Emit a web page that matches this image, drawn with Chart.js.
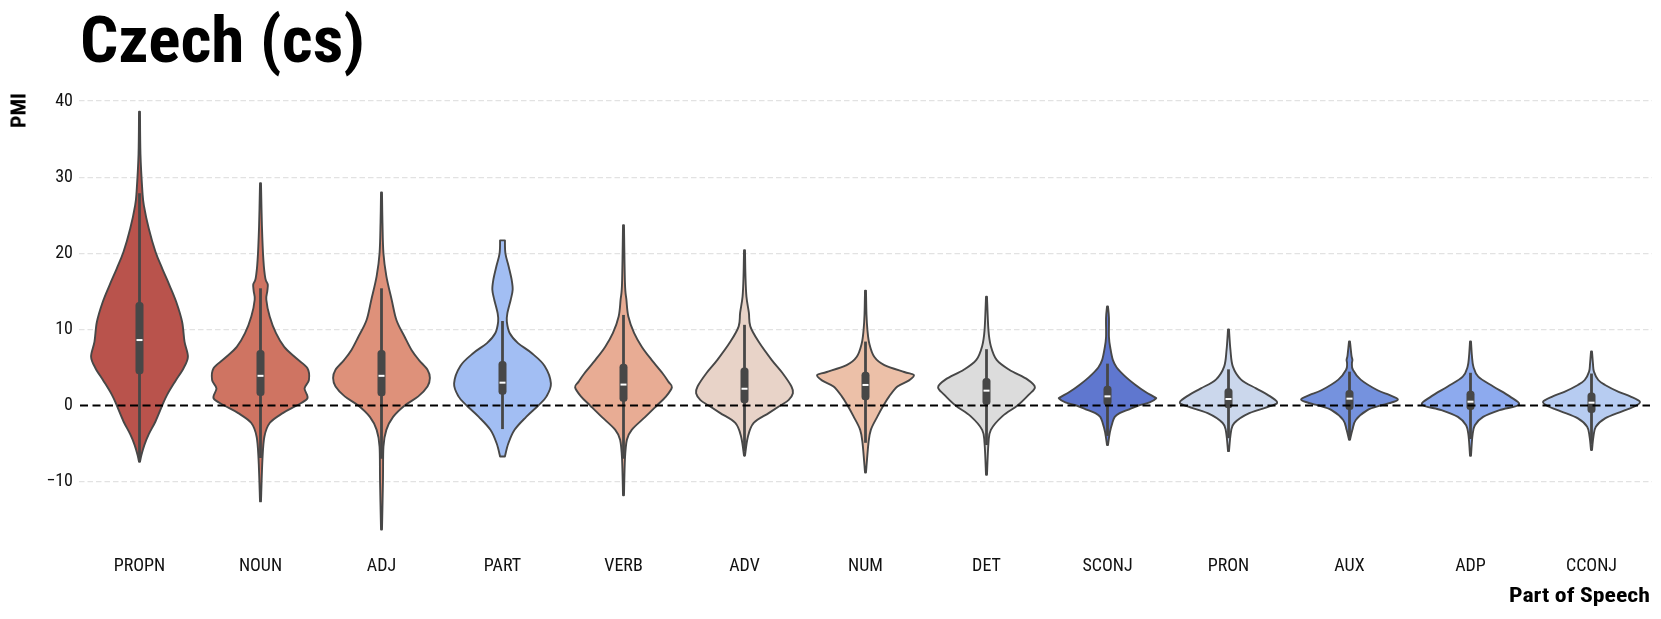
<!DOCTYPE html>
<html><head><meta charset="utf-8">
<script src="https://cdn.jsdelivr.net/npm/chart.js@4.4.1/dist/chart.umd.min.js"></script>
<style>
html,body{margin:0;padding:0;background:#fff;}
#wrap{position:relative;width:1661px;height:619px;overflow:hidden;background:#fff;}
#c{position:absolute;left:0;top:0;}
.lbl{position:absolute;left:0;top:0;white-space:nowrap;color:#000;font-family:'Roboto Condensed',Roboto,sans-serif;font-weight:700;transform-origin:0 0;}
#title{font-size:64px;line-height:64px;}
#ylab{font-size:21px;line-height:21px;}
#xlab{font-size:20px;line-height:20px;}
</style></head>
<body><div id="wrap"><canvas id="c" width="1661" height="619"></canvas>
<div id="title" class="lbl">Czech (cs)</div>
<div id="ylab" class="lbl">PMI</div>
<div id="xlab" class="lbl">Part of Speech</div>
</div>
<script>
// ---- data ----
const categories = ['PROPN','NOUN','ADJ','PART','VERB','ADV','NUM','DET','SCONJ','PRON','AUX','ADP','CCONJ'];
const yTicks = [-10, 0, 10, 20, 30, 40];

// density profiles: [PMI value, relative density (1 = widest)]
const profPROPN = [[-7.4,0.01],[-6.5,0.04],[-5.2,0.1],[-3.8,0.19],[-2.1,0.33],[0,0.47],[1.4,0.57],[3.2,0.74],[4.9,0.91],[6.4,1.0],[8.4,0.93],[11,0.88],[13.6,0.76],[15.8,0.62],[18,0.47],[20.2,0.33],[23.3,0.19],[26.3,0.09],[28.1,0.06],[33,0.02],[38.6,0.01]];
const profNOUN = [[-12.6,0.01],[-7.1,0.04],[-4.1,0.08],[-2.3,0.19],[-1.0,0.46],[0,0.75],[0.95,0.97],[2.25,0.91],[3.35,1.0],[4.9,0.97],[6.2,0.74],[7.7,0.49],[9.5,0.32],[11.7,0.19],[13.9,0.12],[15.0,0.14],[15.9,0.15],[16.7,0.1],[19.1,0.06],[23.5,0.03],[29.2,0.01]];
const profADJ = [[-16.3,0.01],[-10,0.03],[-5.4,0.04],[-3.2,0.1],[-1.5,0.24],[0,0.48],[1.2,0.76],[2.5,0.95],[3.6,1.0],[4.7,0.95],[6.0,0.77],[7.3,0.62],[9.0,0.48],[11.2,0.31],[13.9,0.21],[17.0,0.1],[20.0,0.04],[24,0.02],[28.0,0.01]];
const profPART = [[-6.7,0.05],[-5.0,0.12],[-3.2,0.25],[-1.5,0.49],[0,0.74],[1.2,0.91],[2.9,1.0],[5.2,0.87],[6.9,0.6],[8.2,0.32],[9.5,0.15],[11.0,0.09],[12.1,0.1],[13.9,0.17],[15.2,0.21],[16.5,0.19],[18.2,0.13],[20.0,0.06],[21.7,0.05]];
const profVERB = [[-11.8,0.01],[-7,0.03],[-4.5,0.07],[-3.2,0.17],[-1.5,0.45],[0,0.69],[1.2,0.88],[2.4,1.0],[3.1,0.93],[4.2,0.81],[6.0,0.58],[7.7,0.38],[9.5,0.22],[11.7,0.1],[13.9,0.06],[16.1,0.03],[23.7,0.01]];
const profADV = [[-6.6,0.01],[-4.1,0.07],[-2.3,0.19],[-1.0,0.5],[0,0.74],[0.7,0.91],[1.6,1.0],[2.5,0.97],[4.3,0.78],[6.0,0.56],[8.4,0.29],[10.4,0.12],[12.2,0.09],[14.3,0.04],[17,0.02],[20.4,0.01]];
const profNUM = [[-8.8,0.01],[-5.0,0.06],[-3.2,0.11],[-1.4,0.25],[0,0.37],[1.2,0.49],[2.5,0.66],[3.3,0.9],[4.0,1.0],[4.4,0.8],[5.3,0.39],[6.4,0.18],[8.1,0.08],[9.9,0.04],[12,0.02],[15.1,0.01]];
const profDET = [[-9.1,0.01],[-5,0.04],[-3.2,0.09],[-1.4,0.33],[0,0.64],[1.4,0.87],[2.4,1.0],[3.4,0.85],[4.7,0.47],[6.0,0.21],[7.8,0.09],[9.9,0.04],[14.3,0.01]];
const profSCONJ = [[-5.2,0.01],[-3.5,0.05],[-2.3,0.1],[-1.5,0.15],[-1.0,0.25],[-0.5,0.45],[0,0.64],[0.4,0.87],[0.9,1.0],[1.1,0.97],[1.8,0.78],[2.7,0.58],[3.8,0.37],[5.0,0.19],[6.0,0.11],[7.5,0.06],[9.0,0.03],[11.5,0.03],[13.0,0.01]];
const profPRON = [[-6.0,0.01],[-3.5,0.05],[-2.3,0.12],[-1.0,0.43],[0,0.91],[0.5,1.0],[1.4,0.81],[2.25,0.57],[3.4,0.26],[5.1,0.09],[7.3,0.04],[10.0,0.01]];
const profAUX = [[-4.5,0.01],[-3.2,0.06],[-1.9,0.13],[-0.6,0.37],[0,0.64],[0.3,0.82],[0.8,1.0],[1.4,0.82],[2.0,0.58],[3.4,0.23],[4.7,0.07],[5.5,0.05],[6.0,0.06],[6.6,0.04],[8.4,0.01]];
const profADP = [[-6.6,0.01],[-4,0.04],[-2.6,0.09],[-1.5,0.26],[-0.6,0.6],[0.1,1.0],[1.2,0.81],[2.5,0.47],[3.8,0.16],[5.1,0.06],[6.5,0.03],[8.4,0.01]];
const profCCONJ = [[-5.85,0.01],[-4.1,0.04],[-2.8,0.09],[-1.7,0.28],[-0.8,0.62],[-0.1,0.9],[0.5,1.0],[1.2,0.8],[1.8,0.56],[2.7,0.28],[3.35,0.14],[4.45,0.05],[5.5,0.03],[7.1,0.01]];

// box statistics
const q1          = [4.1, 1.25, 1.2, 1.4, 0.5, 0.3, 0.7, 0.07, 0.0, -0.37, -0.6, -0.6, -1.0];
const medians     = [8.6, 3.9, 3.9, 3.0, 2.75, 2.2, 2.7, 1.95, 1.2, 0.85, 0.9, 0.5, 0.37];
const q3          = [13.6, 7.3, 7.3, 5.85, 5.5, 5.0, 4.45, 3.6, 2.6, 2.26, 2.04, 1.95, 1.7];
const whiskerLow  = [-7.2, -6.9, -7.0, -3.1, -7.0, -6.0, -4.9, -5.2, -4.0, -4.3, -4.5, -4.4, -5.05];
const whiskerHigh = [27.9, 15.4, 15.4, 11.1, 11.9, 10.6, 8.4, 7.4, 5.5, 4.75, 4.45, 4.3, 4.2];

const profiles = [profPROPN, profNOUN, profADJ, profPART, profVERB, profADV, profNUM, profDET, profSCONJ, profPRON, profAUX, profADP, profCCONJ];

// ---- styles ----
const palette = ['#B9534C','#CF7462','#DE917A','#A2BEF3','#E8AC94','#E8D3C8','#ECC0A8','#DCDCDC','#5F77CF','#CBD7EC','#7592DE','#8DAAEE','#B7CCF1'];
const MAX_HALF = 0.4;          // half of violin width, in category units
const EDGE = '#474747';
const TICK_FONT = "'Roboto Condensed','Liberation Sans Narrow','DejaVu Sans Condensed',Roboto,sans-serif";

function smoothPath(ctx, pts, start) {
  if (start) ctx.moveTo(pts[0].x, pts[0].y); else ctx.lineTo(pts[0].x, pts[0].y);
  for (let i = 0; i < pts.length - 1; i++) {
    const p0 = pts[i - 1] || pts[i], p1 = pts[i], p2 = pts[i + 1], p3 = pts[i + 2] || pts[i + 1];
    ctx.bezierCurveTo(p1.x + (p2.x - p0.x) / 6, p1.y + (p2.y - p0.y) / 6,
                      p2.x - (p3.x - p1.x) / 6, p2.y - (p3.y - p1.y) / 6, p2.x, p2.y);
  }
}

const violinPlugin = {
  id: 'violins',
  afterDatasetsDraw(chart) {
    const {ctx, chartArea, scales: {x, y}} = chart;
    ctx.save();
    ctx.beginPath();
    ctx.rect(chartArea.left, chartArea.top, chartArea.width, chartArea.height);
    ctx.clip();
    categories.forEach((cat, i) => {
      const prof = profiles[i];
      const right = prof.map(([v, w]) => ({x: x.getPixelForValue(i + w * MAX_HALF), y: y.getPixelForValue(v)}));
      const left = prof.map(([v, w]) => ({x: x.getPixelForValue(i - w * MAX_HALF), y: y.getPixelForValue(v)})).reverse();
      ctx.beginPath();
      smoothPath(ctx, right, true);
      smoothPath(ctx, left, false);
      ctx.closePath();
      ctx.fillStyle = palette[i];
      ctx.fill();
      ctx.lineWidth = 1.9;
      ctx.strokeStyle = EDGE;
      ctx.lineJoin = 'round';
      ctx.stroke();

      const cx = x.getPixelForValue(i);
      // whisker
      ctx.beginPath();
      ctx.moveTo(cx, y.getPixelForValue(whiskerLow[i]));
      ctx.lineTo(cx, y.getPixelForValue(whiskerHigh[i]));
      ctx.lineWidth = 2.8;
      ctx.strokeStyle = EDGE;
      ctx.lineCap = 'butt';
      ctx.stroke();
      // box
      const yTop = y.getPixelForValue(q3[i]), yBot = y.getPixelForValue(q1[i]);
      ctx.beginPath();
      ctx.roundRect(cx - 4, yTop, 8, yBot - yTop, 3.5);
      ctx.fillStyle = EDGE;
      ctx.fill();
      // median
      const ym = y.getPixelForValue(medians[i]);
      ctx.beginPath();
      ctx.moveTo(cx - 3, ym);
      ctx.lineTo(cx + 3, ym);
      ctx.lineWidth = 2;
      ctx.strokeStyle = '#ffffff';
      ctx.stroke();
    });
    // zero reference line
    const y0 = y.getPixelForValue(0);
    ctx.beginPath();
    ctx.setLineDash([8, 4.5]);
    ctx.moveTo(chartArea.left + 1, y0);
    ctx.lineTo(chartArea.right - 2, y0);
    ctx.lineWidth = 2.2;
    ctx.strokeStyle = '#000000';
    ctx.stroke();
    ctx.restore();
  }
};

new Chart(document.getElementById('c'), {
  type: 'bar',
  data: {labels: categories, datasets: []},
  options: {
    responsive: false,
    animation: false,
    devicePixelRatio: 1,
    layout: {padding: {top: 90, right: 9, left: 0, bottom: 0}},
    plugins: {legend: {display: false}, tooltip: {enabled: false}, title: {display: false}},
    scales: {
      x: {
        type: 'category',
        offset: true,
        grid: {display: false, drawTicks: false},
        border: {display: false},
        ticks: {padding: 6, color: '#111', font: {family: TICK_FONT, size: 18}},
        afterFit(s) { s.height = 69; }
      },
      y: {
        type: 'linear',
        min: -18.99,
        max: 41.46,
        afterBuildTicks(s) { s.ticks = yTicks.map(v => ({value: v})); },
        afterFit(s) { s.width = 79; },
        grid: {
          drawTicks: false,
          lineWidth: 1.3,
          color: (c) => (c.tick && c.tick.value === 0) ? 'rgba(0,0,0,0)' : '#e2e2e2'
        },
        border: {display: false, dash: [5.5, 3]},
        ticks: {
          padding: 6, color: '#111', font: {family: TICK_FONT, size: 18},
          callback: (v) => (v < 0 ? '\u2212' + Math.abs(v) : String(v))
        }
      }
    }
  },
  plugins: [violinPlugin]
});

// ---- HTML labels (condensed by horizontal scaling) ----
function place(id, fn) { const el = document.getElementById(id); fn(el, el.getBoundingClientRect().width); }
place('title', (el, w) => { const k = 285 / w; el.style.transform = `translate(80px, 9px) scale(${k},1)`; });
place('ylab', (el, w) => { const k = 35 / w; el.style.transform = `translate(19px, 110.5px) rotate(-90deg) scale(${k},1) translate(-50%,-50%)`; });
place('xlab', (el, w) => { const k = 141 / w; el.style.transform = `translate(1650px, 595px) scale(${k},1) translate(-100%,-50%)`; });
</script>
</body></html>
